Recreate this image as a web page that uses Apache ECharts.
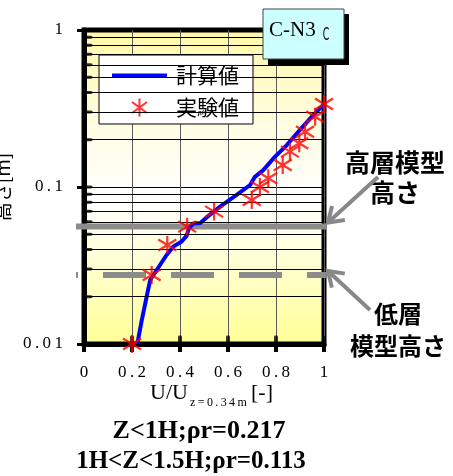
<!DOCTYPE html>
<html>
<head>
<meta charset="utf-8">
<script src="https://cdn.jsdelivr.net/npm/echarts@6/dist/echarts.min.js"></script>
<style>
  html, body { margin: 0; padding: 0; background: #ffffff; }
  #chart { width: 453px; height: 476px; }
</style>
</head>
<body>
<div id="chart"></div>
<script>
// Calculated velocity profile (U/U at z=0.34m vs height in m)
const calcU = [0.222, 0.240, 0.261, 0.276, 0.303, 0.344, 0.372, 0.407, 0.428, 0.437, 0.455, 0.485, 0.511, 0.567, 0.636, 0.692, 0.712, 0.747, 0.789, 0.845, 0.900, 0.955, 0.997];
const calcZ = [0.0100, 0.0140, 0.0200, 0.0256, 0.0296, 0.0369, 0.0417, 0.0450, 0.0490, 0.0546, 0.0585, 0.0590, 0.0640, 0.0750, 0.0890, 0.1030, 0.1160, 0.1280, 0.1520, 0.1850, 0.2310, 0.2870, 0.3330];

// Measured velocity profile
const expU = [0.200, 0.282, 0.347, 0.430, 0.542, 0.699, 0.733, 0.768, 0.828, 0.858, 0.897, 0.921, 0.963, 1.000];
const expZ = [0.0100, 0.0275, 0.0427, 0.0559, 0.0697, 0.0827, 0.1000, 0.1136, 0.1380, 0.1680, 0.1900, 0.2250, 0.2800, 0.3380];

// Axis ticks
const xTickLabels = ['0', '0.2', '0.4', '0.6', '0.8', '1'];
const yTickLabels = ['0.01', '0.1', '1'];
const xInnerTicks = [0.2, 0.4, 0.6, 0.8, 1.0];
const yMinorValues = [0.02, 0.03, 0.04, 0.05, 0.06, 0.07, 0.08, 0.09, 0.2, 0.3, 0.4, 0.5, 0.6, 0.7, 0.8, 0.9];
const yInnerTicks = yMinorValues.concat([0.1]);

// Model heights (m)
const highRiseHeight = 0.056;
const lowRiseHeight = 0.0275;

const seriesNames = ['計算値', '実験値'];
const caseLabel = 'C-N3';
const caseMark = 'C';
const noteLines = ['Z<1H;ρr=0.217', '1H<Z<1.5H;ρr=0.113'];

const spaced = s => s.split('').join('\u2009');
const SERIF = '"Liberation Serif", "Times New Roman", serif';
const SANS_JP = '"Noto Sans CJK JP", "Noto Sans", sans-serif';
const STAR = 'path://M9 0L9 18M1.5 3.5L16.5 14.5M1.5 14.5L16.5 3.5';

const chart = echarts.init(document.getElementById('chart'), null, { renderer: 'canvas' });

const option = {
  animation: false,
  grid: {
    left: 84, right: 129, top: 30, bottom: 132,
    outerBoundsMode: 'none', containLabel: false,
    show: true,
    borderColor: '#000', borderWidth: 5,
    backgroundColor: {
      type: 'linear', x: 0, y: 0, x2: 0, y2: 1,
      colorStops: [
        { offset: 0, color: '#fff9a6' },
        { offset: 0.3, color: '#fffde2' },
        { offset: 0.55, color: '#ffffff' },
        { offset: 1, color: '#ffff94' }
      ]
    }
  },
  legend: {
    orient: 'vertical',
    left: 99, top: 55,
    padding: [10, 14, 6, 13],
    backgroundColor: '#ffffff',
    borderColor: '#000', borderWidth: 1,
    itemWidth: 55, itemHeight: 18, itemGap: 11,
    textStyle: { fontFamily: SANS_JP, fontSize: 21, color: '#000', padding: [0, 0, 0, 4] },
    data: [
      { name: seriesNames[0], icon: 'path://M0 0H55V4H0Z', itemStyle: { color: '#0000ff', borderWidth: 0 } },
      { name: seriesNames[1] }
    ]
  },
  xAxis: {
    type: 'value', min: 0, max: 1, interval: 0.2, z: 2,
    axisLine: { show: true, onZero: false, lineStyle: { color: '#000', width: 5 } },
    axisTick: { show: true, length: 8, lineStyle: { color: '#000', width: 4 } },
    axisLabel: {
      margin: 20, color: '#000', fontFamily: SERIF, fontSize: 17,
      formatter: v => spaced(xTickLabels[Math.round(v / 0.2)])
    },
    splitLine: { show: true, lineStyle: { color: '#5a5a5a', width: 1 } }
  },
  yAxis: {
    type: 'log', logBase: 10, min: 0.01, max: 1, z: 2,
    axisLine: { show: true, onZero: false, lineStyle: { color: '#000', width: 5 } },
    axisTick: { show: true, length: 7, lineStyle: { color: '#000', width: 3 } },
    axisLabel: {
      margin: 21, color: '#000', fontFamily: SERIF, fontSize: 17,
      formatter: v => spaced(yTickLabels[Math.round(Math.log10(v)) + 2])
    },
    splitLine: { show: true, lineStyle: { color: '#000', width: 1 } },
    name: '高さ[m]',
    nameLocation: 'middle', nameGap: 52, nameRotate: 90,
    nameTextStyle: { fontFamily: SANS_JP, fontSize: 19, color: '#000' }
  },
  series: [
    {
      // minor grid lines of the log axis
      type: 'line', data: [], silent: true, z: 1,
      markLine: {
        silent: true, symbol: 'none', label: { show: false },
        lineStyle: { color: '#000', width: 1, type: 'solid' },
        emphasis: { disabled: true },
        data: yMinorValues.map(v => ({ yAxis: v }))
      }
    },
    {
      // inward ticks on the height axis
      type: 'scatter', silent: true, z: 2, clip: false,
      symbol: 'roundRect', symbolSize: [9, 3], symbolOffset: [4, 0],
      itemStyle: { color: '#000' },
      data: yInnerTicks.map(v => [0, v])
    },
    {
      // inward ticks on the velocity axis
      type: 'scatter', silent: true, z: 2, clip: false,
      symbol: 'roundRect', symbolSize: [4, 9], symbolOffset: [0, -4],
      itemStyle: { color: '#000' },
      data: xInnerTicks.map(v => [v, 0.01])
    },
    {
      name: seriesNames[0],
      type: 'line', z: 4, clip: true,
      symbol: 'none', smooth: false,
      lineStyle: { color: '#0000ff', width: 4 },
      itemStyle: { color: '#0000ff' },
      data: calcU.map((u, i) => [u, calcZ[i]])
    },
    {
      name: seriesNames[1],
      type: 'scatter', z: 5, clip: false,
      symbol: STAR, symbolSize: 18,
      itemStyle: { color: 'rgba(0,0,0,0)', borderColor: '#ff0000', borderWidth: 2.2 },
      data: expU.map((u, i) => [u, expZ[i]])
    }
  ]
};

chart.setOption(option);

// Annotations that depend on the axis scales
const yPx = v => chart.convertToPixel({ yAxisIndex: 0 }, v);
const xPx = v => chart.convertToPixel({ xAxisIndex: 0 }, v);
const xLeft = xPx(0) - 8;
const xRight = xPx(1) + 2;
const yHigh = yPx(highRiseHeight);
const yLow = yPx(lowRiseHeight);

function arrowShapes(tail, tip, len, angDeg, id) {
  const dx = tail[0] - tip[0], dy = tail[1] - tip[1];
  const d = Math.hypot(dx, dy);
  const ux = dx / d, uy = dy / d;
  const a = angDeg * Math.PI / 180;
  const rot = (s) => [
    tip[0] + len * (ux * Math.cos(s) - uy * Math.sin(s)),
    tip[1] + len * (ux * Math.sin(s) + uy * Math.cos(s))
  ];
  const style = { stroke: '#888888', lineWidth: 4, fill: null };
  return [
    { type: 'line', id: id + '-shaft', z: 6, silent: true, shape: { x1: tail[0], y1: tail[1], x2: tip[0], y2: tip[1] }, style },
    { type: 'polyline', id: id + '-head', z: 6, silent: true, shape: { points: [rot(a), tip, rot(-a)] }, style }
  ];
}

const jpText = (id, text, x, y, size) => ({
  type: 'text', id, z: 6, silent: true,
  style: { text, x, y, align: 'center', verticalAlign: 'middle', fontFamily: SANS_JP, fontWeight: 'bold', fontSize: size, fill: '#000' }
});

const graphics = [
  // model height reference lines
  { type: 'line', id: 'high-rise', z: 3, silent: true,
    shape: { x1: xLeft, y1: yHigh, x2: xRight, y2: yHigh },
    style: { stroke: '#8c8c8c', lineWidth: 6 } },
  { type: 'line', id: 'low-rise', z: 3, silent: true,
    shape: { x1: xLeft, y1: yLow, x2: xRight, y2: yLow },
    style: { stroke: '#8c8c8c', lineWidth: 6, lineDash: [43, 25], lineDashOffset: 41 } },

  // case label box
  { type: 'rect', id: 'case-shadow', z: 7, silent: true,
    shape: { x: 268, y: 14, width: 81, height: 51 }, style: { fill: '#000' } },
  { type: 'rect', id: 'case-box', z: 8, silent: true,
    shape: { x: 263, y: 9, width: 81, height: 50 }, style: { fill: '#ccffff', stroke: '#444', lineWidth: 1 } },
  { type: 'text', id: 'case-text', z: 9, silent: true,
    style: { text: caseLabel, x: 269, y: 30, align: 'left', verticalAlign: 'middle', fontFamily: SERIF, fontSize: 21, fill: '#000' } },
  { type: 'text', id: 'case-mark', z: 9, silent: true, x: 326, y: 36, scaleX: 0.55,
    style: { text: caseMark, x: 0, y: 0, align: 'center', verticalAlign: 'middle', fontFamily: '"DejaVu Sans", sans-serif', fontSize: 17, fill: '#000' } },

  // velocity axis title with subscript
  { type: 'text', id: 'xname-u', z: 6, silent: true,
    style: { text: 'U/U', x: 150, y: 393, align: 'left', verticalAlign: 'middle', fontFamily: SERIF, fontSize: 22, fill: '#000' } },
  { type: 'text', id: 'xname-sub', z: 6, silent: true,
    style: { text: spaced('z=0.34m'), x: 190, y: 403, align: 'left', verticalAlign: 'middle', fontFamily: SERIF, fontSize: 12, fill: '#000' } },
  { type: 'text', id: 'xname-unit', z: 6, silent: true,
    style: { text: '[-]', x: 251, y: 393, align: 'left', verticalAlign: 'middle', fontFamily: SERIF, fontSize: 22, fill: '#000' } },

  // notes under the chart
  { type: 'text', id: 'note-1', z: 6, silent: true,
    style: { text: noteLines[0], x: 199, y: 431, align: 'center', verticalAlign: 'middle', fontFamily: SERIF, fontWeight: 'bold', fontSize: 26, fill: '#000' } },
  { type: 'text', id: 'note-2', z: 6, silent: true,
    style: { text: noteLines[1], x: 191, y: 462, align: 'center', verticalAlign: 'middle', fontFamily: SERIF, fontWeight: 'bold', fontSize: 25, fill: '#000' } },

  // model height callouts
  jpText('hi-1', '高層模型', 395, 162, 25),
  jpText('hi-2', '高さ', 395, 192, 25),
  jpText('lo-1', '低層', 398, 314, 24),
  jpText('lo-2', '模型高さ', 398, 346, 24)
]
  .concat(arrowShapes([378, 177], [328, yHigh - 4], 17, 34, 'arrow-hi'))
  .concat(arrowShapes([370, 310], [328, yLow - 4], 17, 34, 'arrow-lo'));

chart.setOption({ graphic: graphics });
</script>
</body>
</html>
